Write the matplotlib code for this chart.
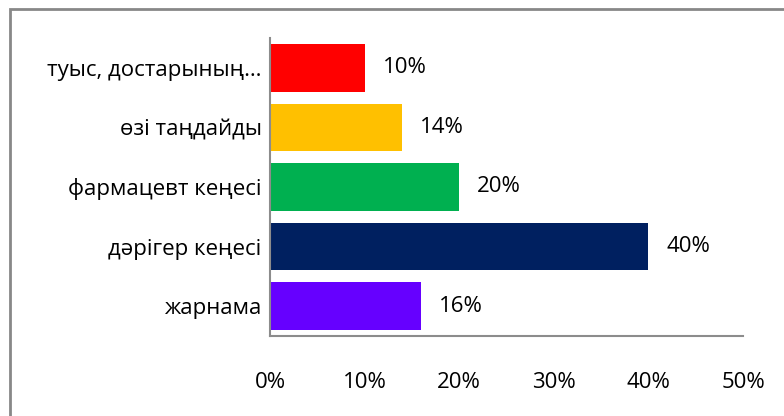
import matplotlib.pyplot as plt
from matplotlib.patches import Rectangle
from matplotlib.ticker import PercentFormatter

# categories from bottom to top, as drawn
categories = ["жарнама", "дәрігер кеңесі", "фармацевт кеңесі", "өзі таңдайды", "туыс, достарының…"]
values = [16, 40, 20, 14, 10]
colors = ["#6600FF", "#002060", "#00B050", "#FFC000", "#FF0000"]

plt.rcParams['font.family'] = ['Open Sans', 'DejaVu Sans']

fig = plt.figure(figsize=(7.84, 4.16), dpi=100)
ax = fig.add_axes([270 / 784, 1 - 336 / 416, 473 / 784, 298 / 416])

ypos = range(len(categories))
ax.barh(ypos, values, height=0.8, color=colors)
for y, v in zip(ypos, values):
    ax.text(v + 1.9, y, "%d%%" % v, va="center", ha="left", fontsize=16, color="#000000")

ax.set_xlim(0, 50)
ax.set_ylim(-0.5, len(categories) - 0.5)
ax.set_xticks(range(0, 51, 10))
ax.xaxis.set_major_formatter(PercentFormatter(decimals=0))
ax.set_yticks(list(ypos))
ax.set_yticklabels(categories)
ax.tick_params(axis="both", length=0, labelsize=16, colors="#000000")
ax.tick_params(axis="x", pad=26)
ax.tick_params(axis="y", pad=6)

for side in ("top", "right"):
    ax.spines[side].set_visible(False)
for side in ("left", "bottom"):
    ax.spines[side].set_color("#8c8c8c")
    ax.spines[side].set_linewidth(1.5)

# chart area border (cropped at right and bottom)
fig.patches.append(Rectangle((10 / 784, -0.1), 1.2, 1.1 - 9 / 416, transform=fig.transFigure,
                             fill=False, edgecolor="#888888", linewidth=2))

fig.savefig("out.png", dpi=100)
